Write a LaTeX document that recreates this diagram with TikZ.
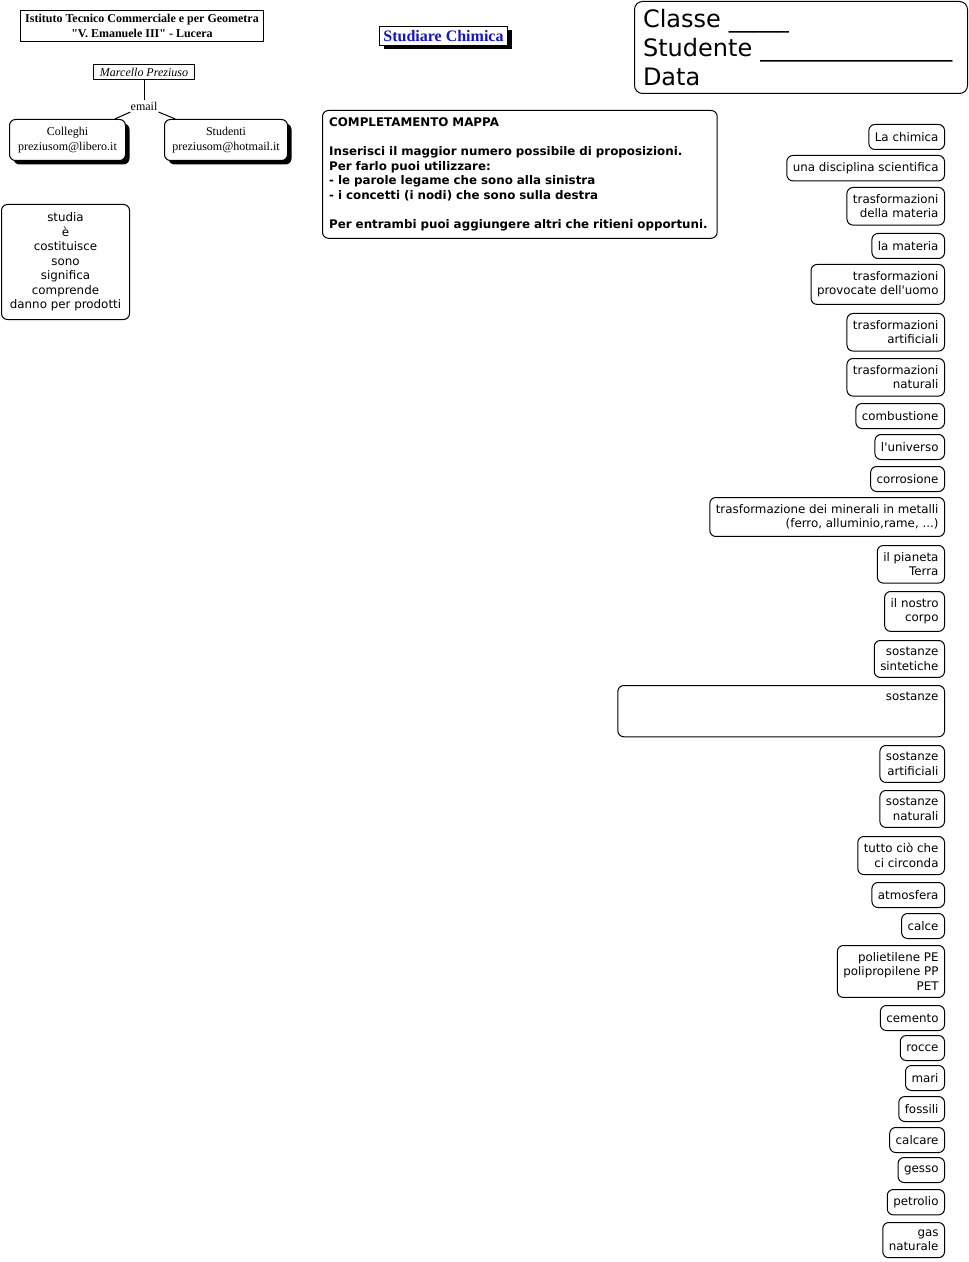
\documentclass[tikz,border=0pt]{standalone}
\usepackage{fontspec}
\setmainfont{DejaVu Sans}
\newfontfamily\serifont{Liberation Serif}
\usepackage{tikz}
\usetikzlibrary{positioning,shadows}
\definecolor{titleblue}{RGB}{20,20,200}

\begin{document}
\begin{tikzpicture}[x=0.75pt, y=-0.75pt, line width=0.75pt]
\tikzstyle{every node}=[inner sep=0pt, font=\fontsize{8.9pt}{10.9pt}\selectfont]
\tikzstyle{concept}=[draw, rounded corners=4.5pt, anchor=north east,
                     inner xsep=4.5pt, inner ysep=5.2pt, align=right,
                     minimum height=18.75pt]
\tikzstyle{shadowed}=[drop shadow={fill=black, opacity=1,
                      shadow xshift=3pt, shadow yshift=-3pt}]
\tikzstyle{serifbox}=[draw, fill=white, anchor=north west,
                      font=\serifont\fontsize{9pt}{11pt}\selectfont]
\useasboundingbox (0,0) rectangle (969,1262);

% header, left
\node[serifbox, minimum width=182.25pt, minimum height=23.25pt, align=center,
      font=\serifont\bfseries\fontsize{9pt}{11pt}\selectfont]
      (istituto) at (20,10) {Istituto Tecnico Commerciale e per Geometra\\
                             \textquotedbl V. Emanuele III\textquotedbl{} - Lucera};
\node[serifbox, minimum width=75.75pt, minimum height=11.25pt,
      font=\serifont\itshape\fontsize{9pt}{11pt}\selectfont]
      (autore) at (93,64) {Marcello Preziuso};
\node[font=\serifont\fontsize{9pt}{11pt}\selectfont, inner sep=1pt]
      (email) at (144,106) {email};
\node[serifbox, shadowed, rounded corners=4.5pt, minimum width=87pt,
      minimum height=30.75pt, align=center]
      (colleghi) at (9,119) {Colleghi\\preziusom@libero.it};
\node[serifbox, shadowed, rounded corners=4.5pt, minimum width=92.25pt,
      minimum height=30.75pt, align=center]
      (studenti) at (164,119) {Studenti\\preziusom@hotmail.it};
\draw (autore) -- (email);
\draw (email) -- (colleghi);
\draw (email) -- (studenti);

% title and name box
\node[serifbox, shadowed, minimum width=96pt, minimum height=14.25pt,
      text=titleblue, font=\serifont\bfseries\fontsize{12pt}{13pt}\selectfont]
      (titolo) at (379,26) {Studiare Chimica};
\node[draw, rounded corners=6pt, anchor=north west, minimum width=249.75pt,
      minimum height=69pt, text width=237pt, align=left, inner xsep=6pt,
      font=\fontsize{18pt}{21.75pt}\selectfont]
      (dati) at (634,1) {Classe \_\_\_\_\_\\
                         Studente \_\_\_\_\_\_\_\_\_\_\_\_\_\_\_\_\\
                         Data};

% instructions
\node[draw, rounded corners=4.5pt, anchor=north west, text width=286pt,
      inner xsep=5pt, inner ysep=5.5pt, align=left,
      font=\bfseries\fontsize{8.9pt}{10.9pt}\selectfont]
      (consegna) at (322,110) {COMPLETAMENTO MAPPA\\ ~\\
      Inserisci il maggior numero possibile di proposizioni.\\
      Per farlo puoi utilizzare:\\
      - le parole legame che sono alla sinistra\\
      - i concetti (i nodi) che sono sulla destra\\ ~\\
      Per entrambi puoi aggiungere altri che ritieni opportuni.};

% linking words
\node[draw, rounded corners=4.5pt, anchor=north west, minimum width=96pt,
      minimum height=86.25pt, align=center]
      (legami) at (1,204) {studia\\ è\\ costituisce\\ sono\\ significa\\
                           comprende\\ danno per prodotti};

% concepts
\node[concept] (chimica) at (945,124) {La chimica};
\node[concept] (disciplina) at (945,155) {una disciplina scientifica};
\node[concept] (trasfmateria) at (945,187) {trasformazioni\\della materia};
\node[concept] (materia) at (945,233) {la materia};
\node[concept] (trasfuomo) at (945,264) {trasformazioni\\provocate dell\textquotesingle uomo};
\node[concept] (trasfartif) at (945,313) {trasformazioni\\artificiali};
\node[concept] (trasfnat) at (945,358) {trasformazioni\\naturali};
\node[concept] (combustione) at (945,403) {combustione};
\node[concept] (universo) at (945,434) {l\textquotesingle universo};
\node[concept] (corrosione) at (945,466) {corrosione};
\node[concept] (minerali) at (945,497) {trasformazione dei minerali in metalli\hspace{3pt}\\
                                        (ferro, alluminio,rame, ...)};
\node[concept] (pianeta) at (945,545) {il pianeta\\Terra};
\node[concept] (corpo) at (945,591) {il nostro\\corpo};
\node[concept] (sintetiche) at (945,640) {sostanze\\sintetiche};
\node[concept, text width=236pt] (sostanze) at (945,685) {sostanze\\ ~\\ ~};
\node[concept] (sostartif) at (945,745) {sostanze\\artificiali};
\node[concept] (sostnat) at (945,790) {sostanze\\naturali};
\node[concept] (circonda) at (945,836) {tutto ciò che\\ci circonda};
\node[concept] (atmosfera) at (945,882) {atmosfera};
\node[concept] (calce) at (945,913) {calce};
\node[concept] (plastiche) at (945,945) {polietilene PE\\polipropilene PP\\PET};
\node[concept] (cemento) at (945,1005) {cemento};
\node[concept] (rocce) at (945,1035) {rocce};
\node[concept] (mari) at (945,1065) {mari};
\node[concept] (fossili) at (945,1096) {fossili};
\node[concept] (calcare) at (945,1127) {calcare};
\node[concept] (gesso) at (945,1157) {gesso};
\node[concept] (petrolio) at (945,1189) {petrolio};
\node[concept] (gas) at (945,1222) {gas\\naturale};
\end{tikzpicture}
\end{document}
